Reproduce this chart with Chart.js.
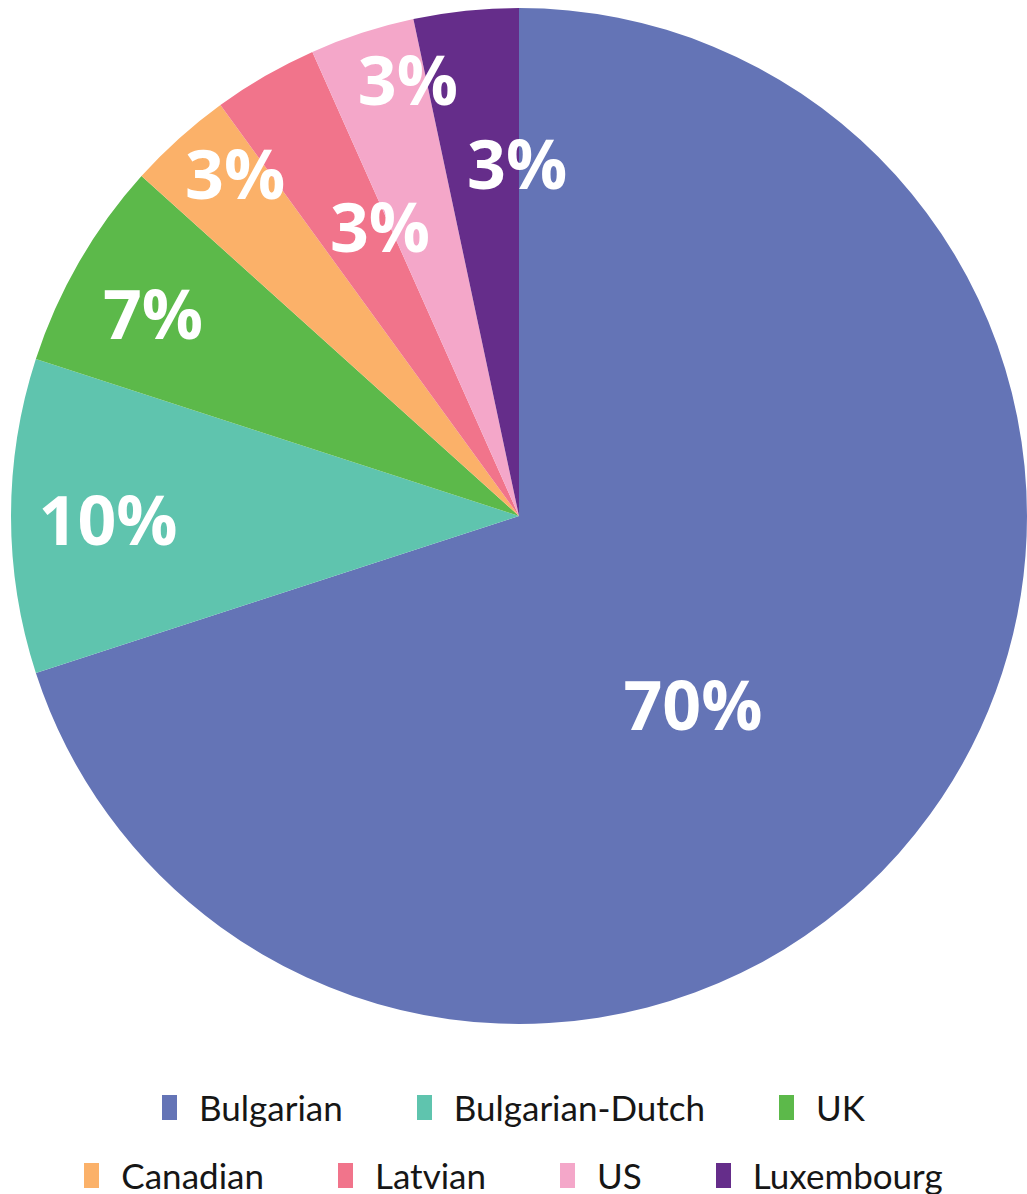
<!DOCTYPE html>
<html>
<head>
<meta charset="utf-8">
<script src="https://cdn.jsdelivr.net/npm/chart.js@4"></script>
<style>
  html, body { margin: 0; padding: 0; background: #ffffff; }
  #wrap { position: relative; width: 1027px; height: 1194px; }
  #chartBox { position: absolute; left: 0; top: 0; width: 1027px; height: 1032px; }
  .legend-row {
    position: absolute; left: 0; width: 1027px; height: 40px;
    display: flex; justify-content: center; align-items: center;
    font-family: Lato, sans-serif; font-size: 35px; color: #161616;
  }
  .legend-item { display: flex; align-items: center; margin: 0 37px; white-space: nowrap; }
  .legend-box { display: block; flex: 0 0 15px; width: 15px; height: 25px; min-height: 25px; margin-right: 22px; }
</style>
</head>
<body>
<div id="wrap">
  <div id="chartBox"><canvas id="pieCanvas"></canvas></div>
  <div id="legendRow1" class="legend-row" style="top:1087px"></div>
  <div id="legendRow2" class="legend-row" style="top:1155px"></div>
</div>
<script>
// data (counts out of 30)
const labels = ['Bulgarian', 'Bulgarian-Dutch', 'UK', 'Canadian', 'Latvian', 'US', 'Luxembourg'];
const counts = [21, 3, 2, 1, 1, 1, 1];
const pctLabels = ['70%', '10%', '7%', '3%', '3%', '3%', '3%'];
const colors = ['#6474B6', '#5FC4AE', '#5CB94A', '#FBB169', '#F1748B', '#F4A7C9', '#652D8A'];

// where each label sits: [angle in degrees (0 = right, clockwise), fraction of radius]
const labelPlaces = [[47.4, 0.506], [179.4, 0.809], [208.9, 0.823], [230.3, 0.875], [244.3, 0.631], [255.7, 0.886], [269.7, 0.693]];

const pieLabels = {
    id: 'pieLabels',
    afterDatasetsDraw(chart) {
        const ctx = chart.ctx;
        const meta = chart.getDatasetMeta(0);
        ctx.save();
        ctx.fillStyle = '#ffffff';
        ctx.font = 'bold 68px "Open Sans"';
        ctx.textAlign = 'center';
        ctx.textBaseline = 'alphabetic';
        meta.data.forEach((arc, i) => {
            const a = labelPlaces[i][0] * Math.PI / 180;
            const d = labelPlaces[i][1] * arc.outerRadius;
            // shift down by half the cap height so the digits are centred
            ctx.fillText(pctLabels[i], arc.x + d * Math.cos(a), arc.y + d * Math.sin(a) + 25);
        });
        ctx.restore();
    }
};

// legend built from the chart's own legend items, 3 on the first row, 4 on the second
const htmlLegend = {
    id: 'htmlLegend',
    afterUpdate(chart) {
        const rows = [document.getElementById('legendRow1'), document.getElementById('legendRow2')];
        rows.forEach(r => { r.innerHTML = ''; });
        const items = chart.options.plugins.legend.labels.generateLabels(chart);
        items.forEach((item, i) => {
            const el = document.createElement('div');
            el.className = 'legend-item';
            const box = document.createElement('span');
            box.className = 'legend-box';
            box.style.background = item.fillStyle;
            el.appendChild(box);
            el.appendChild(document.createTextNode(item.text));
            rows[i < 3 ? 0 : 1].appendChild(el);
        });
    }
};

const ctx = document.getElementById('pieCanvas').getContext('2d');

let pieChart = new Chart(ctx, {
    type: 'pie',
    data: {
        labels: labels,
        datasets: [{
            data: counts,
            backgroundColor: colors,
            borderWidth: 0
        }]
    },
    options: {
        responsive: true,
        maintainAspectRatio: false,
        animation: false,
        layout: {
            padding: { left: 11, right: 0, top: 8, bottom: 8 }
        },
        plugins: {
            legend: { display: false },
            tooltip: { enabled: false }
        }
    },
    plugins: [pieLabels, htmlLegend]
});
</script>
</body>
</html>
